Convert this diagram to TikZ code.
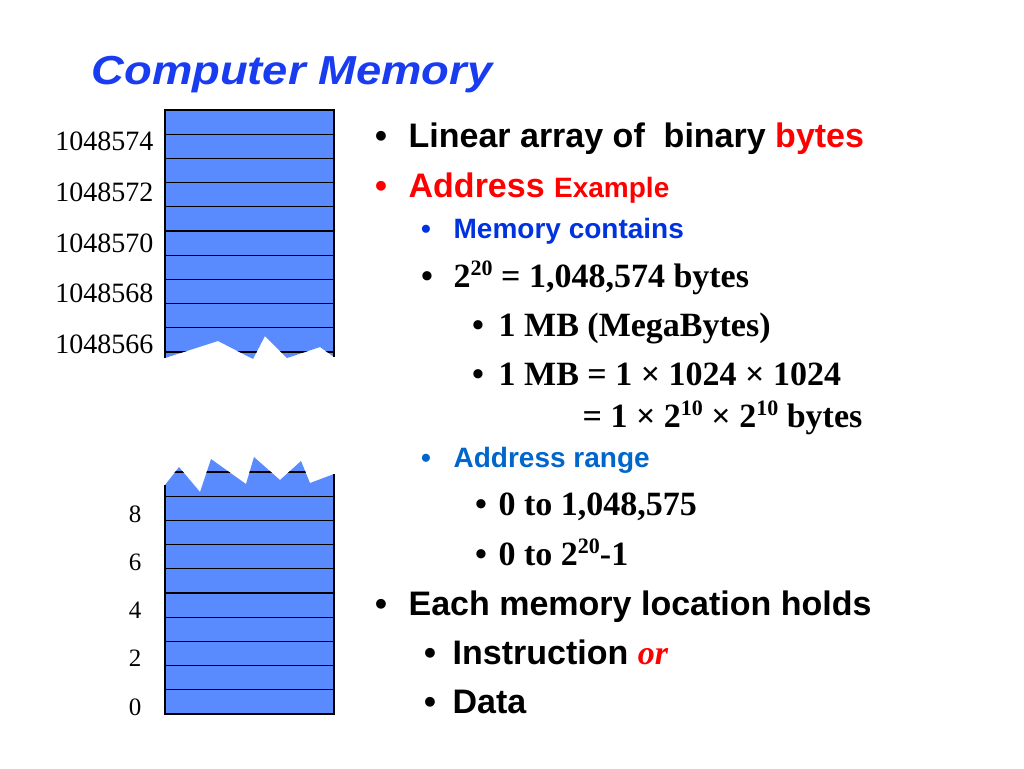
\documentclass[tikz,border=0pt]{standalone}
\usepackage{fontspec}
\setmainfont{Liberation Serif}
\newfontfamily\arial{Liberation Sans}
\newfontfamily\titlefont[FakeStretch=1.12]{Liberation Sans}
\definecolor{memblue}{RGB}{89,139,255}
\definecolor{headblue}{RGB}{26,60,240}
\definecolor{subblue}{RGB}{0,51,221}
\definecolor{rangeblue}{RGB}{0,102,204}
\newcommand{\pw}[1]{\raisebox{.35em}{\fontsize{22}{22}\selectfont #1}}

\begin{document}
\begin{tikzpicture}[x=1pt,y=-1pt,line width=1.3pt,
    addr/.style={anchor=east,inner sep=0pt,font=\fontsize{28}{28}\selectfont},
    dot/.style={anchor=base,inner sep=0pt},
    big/.style={anchor=base west,inner sep=0pt,font=\arial\bfseries\fontsize{34}{34}\selectfont},
    mid/.style={anchor=base west,inner sep=0pt,font=\arial\bfseries\fontsize{28}{28}\selectfont},
    serif/.style={anchor=base west,inner sep=0pt,font=\bfseries\fontsize{34}{34}\selectfont}]
    \useasboundingbox (0,0) rectangle (1024,768);
    % Title
    \node[anchor=base west,inner sep=0pt,text=headblue,
      font=\titlefont\bfseries\itshape\fontsize{40.5}{40.5}\selectfont] (title) at (91,84) {Computer Memory};
    % Upper part of the memory, torn at the bottom
    \begin{scope}
      \clip (165,110) -- (334,110) -- (334,357) -- (320,347) -- (287,358) -- (265,336)
        -- (253,359) -- (218,341) -- (165,358) -- cycle;
      \fill[memblue] (160,100) rectangle (340,370);
      \foreach \k in {1,...,10}
        \draw (165,{110+24.2*\k}) -- (334,{110+24.2*\k});
    \end{scope}
    \draw (165,358) -- (165,110) -- (334,110) -- (334,357);
    % Lower part of the memory, torn at the top
    \begin{scope}
      \clip (165,714) -- (334,714) -- (334,474) -- (310,483) -- (301,461) -- (280,480)
        -- (254,457) -- (246,484) -- (211,459) -- (200,492) -- (179,467) -- (165,485) -- cycle;
      \fill[memblue] (160,450) rectangle (340,720);
      \foreach \k in {1,...,10}
        \draw (165,{714-24.2*\k}) -- (334,{714-24.2*\k});
    \end{scope}
    \draw (165,485) -- (165,714) -- (334,714) -- (334,474);
    % Addresses
    \foreach \a/\y in {1048574/141,1048572/192,1048570/243,1048568/293,1048566/344}
      \node[addr] (a\a) at (154,\y) {\a};
    \foreach \a/\y in {8/514,6/562,4/610,2/658,0/707}
      \node[addr,font=\fontsize{25}{25}\selectfont] (a\a) at (142,\y) {\a};
    % Bullets
    \node[dot,font=\arial\bfseries\fontsize{34}{34}\selectfont] (b1) at (381,147) {•};
    \node[big] (t1) at (408,147) {Linear array of \ binary \textcolor{red}{bytes}};
    \node[dot,font=\arial\bfseries\fontsize{34}{34}\selectfont,text=red] (b2) at (381,197) {•};
    \node[big,text=red] (t2) at (408,197) {Address {\fontsize{28}{28}\selectfont Example}};
    \node[dot,font=\arial\bfseries\fontsize{28}{28}\selectfont,text=subblue] (b3) at (426,238) {•};
    \node[mid,text=subblue] (t3) at (453,238) {Memory contains};
    \node[dot,font=\bfseries\fontsize{34}{34}\selectfont] (b4) at (427,287) {•};
    \node[serif] (t4) at (453,287) {2\pw{20} = 1,048,574 bytes};
    \node[dot,font=\bfseries\fontsize{34}{34}\selectfont] (b5) at (478,336) {•};
    \node[serif] (t5) at (498,336) {1 MB (MegaBytes)};
    \node[dot,font=\bfseries\fontsize{34}{34}\selectfont] (b6) at (478,385) {•};
    \node[serif] (t6) at (498,385) {1 MB = 1 × 1024 × 1024};
    \node[serif] (t7) at (582,427) {= 1 × 2\pw{10} × 2\pw{10} bytes};
    \node[dot,font=\arial\bfseries\fontsize{28}{28}\selectfont,text=rangeblue] (b8) at (426,467) {•};
    \node[mid,text=rangeblue] (t8) at (453,467) {Address range};
    \node[dot,font=\bfseries\fontsize{34}{34}\selectfont] (b9) at (481,515) {•};
    \node[serif] (t9) at (498,515) {0 to 1,048,575};
    \node[dot,font=\bfseries\fontsize{34}{34}\selectfont] (b10) at (481,565) {•};
    \node[serif] (t10) at (498,565) {0 to 2\pw{20}-1};
    \node[dot,font=\arial\bfseries\fontsize{34}{34}\selectfont] (b11) at (381,615) {•};
    \node[big] (t11) at (408,615) {Each memory location holds};
    \node[dot,font=\arial\bfseries\fontsize{34}{34}\selectfont] (b12) at (430,664) {•};
    \node[big] (t12) at (452,664) {Instruction \textcolor{red}{\rmfamily\itshape or}};
    \node[dot,font=\arial\bfseries\fontsize{34}{34}\selectfont] (b13) at (430,713) {•};
    \node[big] (t13) at (452,713) {Data};
\end{tikzpicture}
\end{document}
